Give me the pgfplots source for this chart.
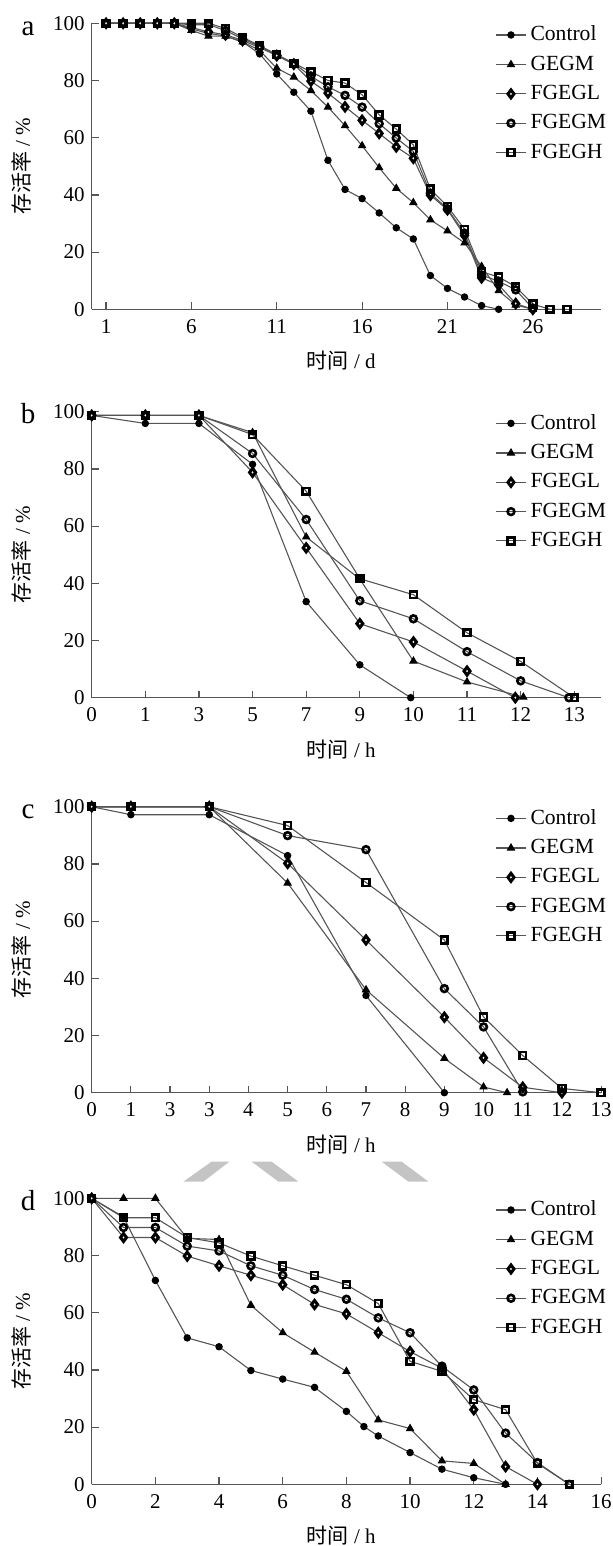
\documentclass[border=0pt]{standalone}
\usepackage{fontspec}
\setmainfont{Liberation Serif}
\newfontfamily\cjk{Noto Sans CJK SC}
\usepackage{pgfplots}
\pgfplotsset{compat=1.18}

\definecolor{linegray}{HTML}{555555}
\definecolor{wmgray}{HTML}{C4C4C4}

\tikzset{panel/.style={font=\fontsize{14.5}{16}\selectfont, anchor=base}}

\pgfplotsset{
  survival/.style={
    scale only axis, width=254.7pt, height=143pt,
    axis x line*=bottom, axis y line*=left,
    axis line style={-, linegray, line width=0.6pt},
    ymin=0, ymax=100, ytick={0,20,...,100},
    tick align=inside, major tick length=3.5pt,
    tick style={linegray, line width=0.6pt},
    clip=false,
    font=\fontsize{10.5}{12}\selectfont,
    tick label style={font=\fontsize{10.5}{12}\selectfont},
    /pgf/number format/assume math mode=true,
    xticklabel shift=1.5pt,
    ylabel={{\cjk 存活率} / \%},
    ylabel style={at={(axis description cs:-0.137,0.5)}, anchor=center},
    xlabel style={at={(axis description cs:0.49,-0.18)}, anchor=center},
    legend style={at={(axis description cs:0.78,1.02)}, anchor=north west,
      draw=none, fill=none, font=\fontsize{10.8}{12}\selectfont,
      row sep=2pt, column sep=0pt},
    legend cell align=left,
    legend image code/.code={\draw[mark repeat=2,mark phase=2]
      plot coordinates {(0pt,0pt)(7.5pt,0pt)(15pt,0pt)};},
    legend entries={Control,GEGM,FGEGL,FGEGM,FGEGH},
  },
  ctrl/.style={linegray, line width=0.55pt, mark=*, mark size=1.6pt,
    mark options={draw=black, fill=black, line width=0.5pt}},
  gegm/.style={linegray, line width=0.55pt, mark=triangle*, mark size=2pt,
    mark options={draw=black, fill=black, line width=0.5pt}},
  fgegl/.style={linegray, line width=0.55pt, mark=diamond*, mark size=2pt,
    mark options={draw=black, fill=white, line width=1.5pt}},
  fgegm/.style={linegray, line width=0.55pt, mark=o, mark size=1.7pt,
    mark options={draw=black, fill=white, line width=1.3pt}},
  fgegh/.style={linegray, line width=0.55pt, mark=square, mark size=1.7pt,
    mark options={draw=black, fill=white, line width=1.3pt}},
}

\begin{document}
\begin{tikzpicture}
\useasboundingbox (0,0) rectangle (306.5pt,-773pt);

% ---- a ----
\begin{axis}[survival, at={(45.85pt,-154.65pt)}, anchor=south west,
  xmin=0.16, xmax=30, xtick={1,6,...,26}, xlabel={{\cjk 时间} / d}]
\addplot[ctrl] coordinates {(1,100)(2,100)(3,100)(4,100)(5,100)(6,98)(7,96.5)(8,95.5)
  (9,93.5)(10,89.3)(11,82.3)(12,75.9)(13,69.3)(14,52.1)(15,41.9)(16,38.7)(17,33.7)
  (18,28.5)(19,24.6)(20,11.8)(21,7.3)(22,4.3)(23,1.3)(24,0)};
\addplot[gegm] coordinates {(1,100)(2,100)(3,100)(4,100)(5,100)(6,97.5)(7,95.5)(8,95.5)
  (9,93.5)(10,90.5)(11,84.3)(12,81.2)(13,76.5)(14,70.7)(15,64.2)(16,57.2)(17,49.5)
  (18,42.3)(19,37.3)(20,31.3)(21,27.4)(22,23.2)(23,15)(24,6.5)(25,1.5)(26,0)};
\addplot[fgegl] coordinates {(1,100)(2,100)(3,100)(4,100)(5,100)(6,98.5)(7,97)(8,96)
  (9,94)(10,91.5)(11,88.7)(12,85.7)(13,79.8)(14,75.6)(15,70.8)(16,66.1)(17,61.5)
  (18,56.8)(19,52.8)(20,39.9)(21,34.8)(22,25.8)(23,11)(24,8.5)(25,2)(26,0)};
\addplot[fgegm] coordinates {(1,100)(2,100)(3,100)(4,100)(5,100)(6,99.5)(7,99.5)(8,97.5)
  (9,94.5)(10,92)(11,88.8)(12,86)(13,81.5)(14,77.8)(15,74.8)(16,70.7)(17,64.9)
  (18,59.9)(19,55.2)(20,40.6)(21,35.1)(22,26.6)(23,12)(24,9.8)(25,6.8)(26,0.3)};
\addplot[fgegh] coordinates {(1,100)(2,100)(3,100)(4,100)(5,100)(6,100)(7,100)(8,98.2)
  (9,95.1)(10,92.2)(11,89.1)(12,86)(13,83.1)(14,80)(15,79.1)(16,75)(17,68)
  (18,63)(19,57.5)(20,42)(21,36)(22,28)(23,13.1)(24,11.3)(25,7.9)(26,1.8)(27,0)(28,0)};
\node[panel] at (rel axis cs:-0.125,0.958) {a};
\end{axis}

% ---- b ----
\begin{axis}[survival, at={(45.85pt,-348.85pt)}, anchor=south west,
  xmin=0, xmax=9.5, xtick={0,...,9}, xticklabels={0,1,3,5,7,9,10,11,12,13},
  xlabel={{\cjk 时间} / h}]
\addplot[ctrl] coordinates {(0,98.7)(1,95.9)(2,95.9)(3,81.6)(4,33.6)(5,11.5)(5.95,0)};
\addplot[gegm] coordinates {(0,98.7)(1,98.7)(2,98.7)(3,92.7)(4,56.2)(5,41.5)(6,12.8)(7,5.5)(8.05,0.2)};
\addplot[fgegl] coordinates {(0,98.7)(1,98.7)(2,98.7)(3,78.8)(4,52.4)(5,25.9)(6,19.5)(7,9.3)(7.9,0)};
\addplot[fgegm] coordinates {(0,98.7)(1,98.7)(2,98.7)(3,85.4)(4,62.3)(5,33.9)(6,27.6)(7,16.1)(8,5.9)(8.9,0)};
\addplot[fgegh] coordinates {(0,98.7)(1,98.7)(2,98.7)(3,92)(4,72.2)(5,41.6)(6,36)(7,22.7)(8,12.7)(9,0)};
\node[panel] at (rel axis cs:-0.125,0.958) {b};
\end{axis}

% ---- c ----
\begin{axis}[survival, at={(45.85pt,-546.35pt)}, anchor=south west,
  xmin=0, xmax=13, xtick={0,...,13}, xticklabels={0,1,3,3,4,5,6,7,8,9,10,11,12,13},
  xlabel={{\cjk 时间} / h}]
\addplot[ctrl] coordinates {(0,100)(1,97.2)(3,97.2)(5,82.9)(7,34)(9,0)};
\addplot[gegm] coordinates {(0,100)(1,100)(3,100)(5,73.3)(7,36)(9,12)(10,2)(10.6,0)};
\addplot[fgegl] coordinates {(0,100)(1,100)(3,100)(5,80.2)(7,53.4)(9,26.4)(10,12.2)(11,1.9)(12,0)};
\addplot[fgegm] coordinates {(0,100)(1,100)(3,100)(5,89.9)(7,85)(9,36.4)(10,23)(11,0.3)};
\addplot[fgegh] coordinates {(0,100)(1,100)(3,100)(5,93.4)(7,73.5)(9,53.4)(10,26.5)(11,13)(12,1.5)(13,0)};
\node[panel] at (rel axis cs:-0.125,0.958) {c};
\end{axis}

% watermark fragments between c and d
\fill[wmgray] (105.8pt,-580.8pt) -- (114.7pt,-580.8pt) -- (101.7pt,-590.8pt) -- (91.7pt,-590.8pt) -- cycle;
\fill[wmgray] (125.8pt,-580.8pt) -- (135.8pt,-580.8pt) -- (149.2pt,-590.8pt) -- (139.2pt,-590.8pt) -- cycle;
\fill[wmgray] (190.8pt,-580.8pt) -- (200.8pt,-580.8pt) -- (214.2pt,-590.8pt) -- (204.2pt,-590.8pt) -- cycle;

% ---- d ----
\begin{axis}[survival, at={(45.85pt,-742.15pt)}, anchor=south west,
  xmin=0, xmax=16, xtick={0,2,...,16}, xlabel={{\cjk 时间} / h}]
\addplot[ctrl] coordinates {(0,100)(1,93.5)(2,71.3)(3,51.2)(4,48.1)(5,39.8)(6,36.8)(7,33.9)
  (8,25.5)(8.55,20.2)(9,16.9)(10,11.1)(11,5.3)(12,2.3)(13,0)};
\addplot[gegm] coordinates {(0,100)(1,100)(2,100)(3,86)(4,85.6)(5,62.6)(6,53)(7,46.2)
  (8,39.5)(9,22.5)(10,19.5)(11,8.2)(12,7.3)(13,0)};
\addplot[fgegl] coordinates {(0,100)(1,86.3)(2,86.3)(3,79.8)(4,76.4)(5,73.1)(6,69.8)(7,62.9)
  (8,59.6)(9,53)(10,46.4)(11,40.6)(12,26.1)(13,6.2)(14,0)};
\addplot[fgegm] coordinates {(0,100)(1,89.8)(2,89.8)(3,83.3)(4,81.6)(5,76.4)(6,73.1)(7,68.1)
  (8,64.7)(9,58.2)(10,53)(11,41.3)(12,33)(13,17.9)(14,7.6)(15,0)};
\addplot[fgegh] coordinates {(0,100)(1,93.2)(2,93.2)(3,86.3)(4,84.4)(5,79.8)(6,76.4)(7,73.1)
  (8,69.8)(9,63.2)(10,43)(11,39.5)(12,29.6)(13,26.1)(14,7.3)(15,0)};
\node[panel] at (rel axis cs:-0.125,0.958) {d};
\end{axis}
\end{tikzpicture}
\end{document}
